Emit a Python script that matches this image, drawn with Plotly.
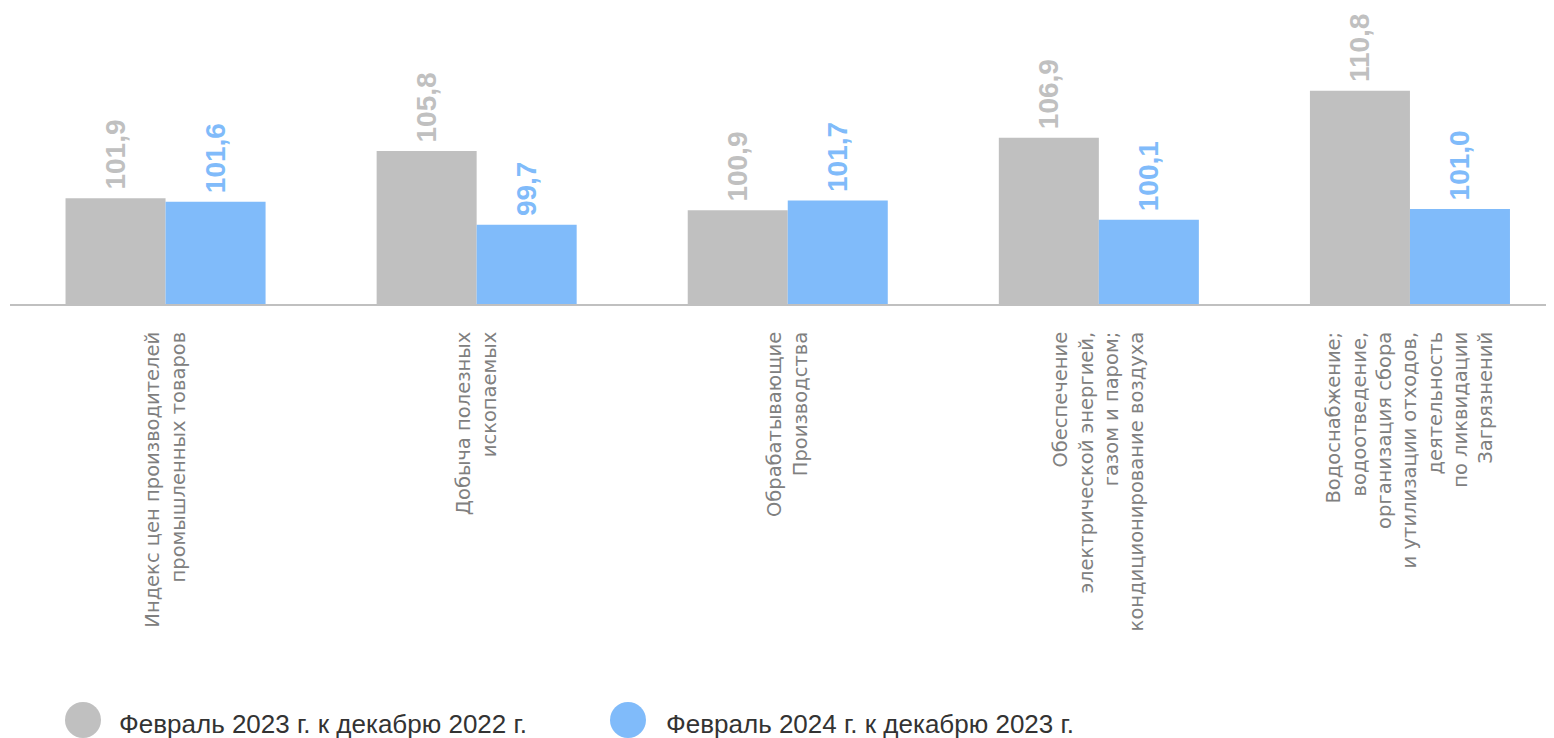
import plotly.graph_objects as go

categories = [
    "Индекс цен производителей<br>промышленных товаров",
    "Добыча полезных<br>ископаемых",
    "Обрабатывающие<br>Производства",
    "Обеспечение<br>электрической энергией,<br>газом и паром;<br>кондиционирование воздуха",
    "Водоснабжение;<br>водоотведение,<br>организация сбора<br>и утилизации отходов,<br>деятельность<br>по ликвидации<br>Загрязнений",
]
series_names = ["Февраль 2023 г. к декабрю 2022 г.", "Февраль 2024 г. к декабрю 2023 г."]
values_2023 = [101.9, 105.8, 100.9, 106.9, 110.8]
values_2024 = [101.6, 99.7, 101.7, 100.1, 101.0]

GREY = "#C0C0C0"
BLUE = "#80BBFA"
colors = [GREY, BLUE]

# page body has an 8px default margin; figure occupies 8..1554 x 8..738
OFF = 8
W, H = 1554 - OFF, 738 - OFF
ML, MR, MT, MB = 10 - OFF, 0, 0, 738 - 304
# plot area in screen px: x 10..1554, y 8..304

fig = go.Figure()
for name, vals, col in zip(series_names, [values_2023, values_2024], colors):
    fig.add_trace(go.Bar(
        x=categories, y=vals, name=name,
        marker=dict(color=col, line=dict(width=0)),
        texttemplate="\u2009%{y:.1f}", textposition="outside", textangle=-90,
        textfont=dict(family="Liberation Sans, Arial", size=28, color=col, weight="bold"),
        constraintext="none", cliponaxis=False, showlegend=False,
    ))

plot_w = W - ML - MR
plot_h = H - MT - MB
px_per_cat = 311.1
x0 = -0.5
x1 = x0 + plot_w / px_per_cat
px_per_unit = 12.07
y0 = 93.13
y1 = y0 + plot_h / px_per_unit

fig.update_layout(
    width=W, height=H,
    margin=dict(l=ML, r=MR, t=MT, b=MB, pad=0),
    paper_bgcolor="white", plot_bgcolor="white",
    barmode="group", bargap=0.357, bargroupgap=0,
    separators=", ",
    showlegend=False,
    xaxis=dict(
        type="category", range=[x0, x1],
        showline=True, linecolor="#C0C0C0", linewidth=2,
        showgrid=False, zeroline=False,
        ticks="outside", ticklen=18, tickcolor="rgba(0,0,0,0)",
        tickangle=-90,
        tickfont=dict(family="DejaVu Sans", size=19.5, color="#808080"),
    ),
    yaxis=dict(range=[y0, y1], visible=False, showgrid=False, zeroline=False),
)

# Legend drawn as circles + text below the plot (screen px -> paper coords)
def px_x(x):
    return (x - OFF - ML) / plot_w
def px_y(y):
    return (304 - y) / plot_h

legend_items = [(83, 117), (628, 664)]
for (cx, tx), name, col in zip(legend_items, series_names, colors):
    r = 18
    fig.add_shape(type="circle", xref="paper", yref="paper",
                  x0=px_x(cx - r), x1=px_x(cx + r), y0=px_y(720 + r), y1=px_y(720 - r),
                  fillcolor=col, line=dict(width=0))
    fig.add_annotation(xref="paper", yref="paper", x=px_x(tx), y=px_y(724),
                       xanchor="left", yanchor="middle", showarrow=False,
                       text=name, font=dict(family="Liberation Sans, Arial", size=26, color="#333333"))

fig.write_html("out.html")
